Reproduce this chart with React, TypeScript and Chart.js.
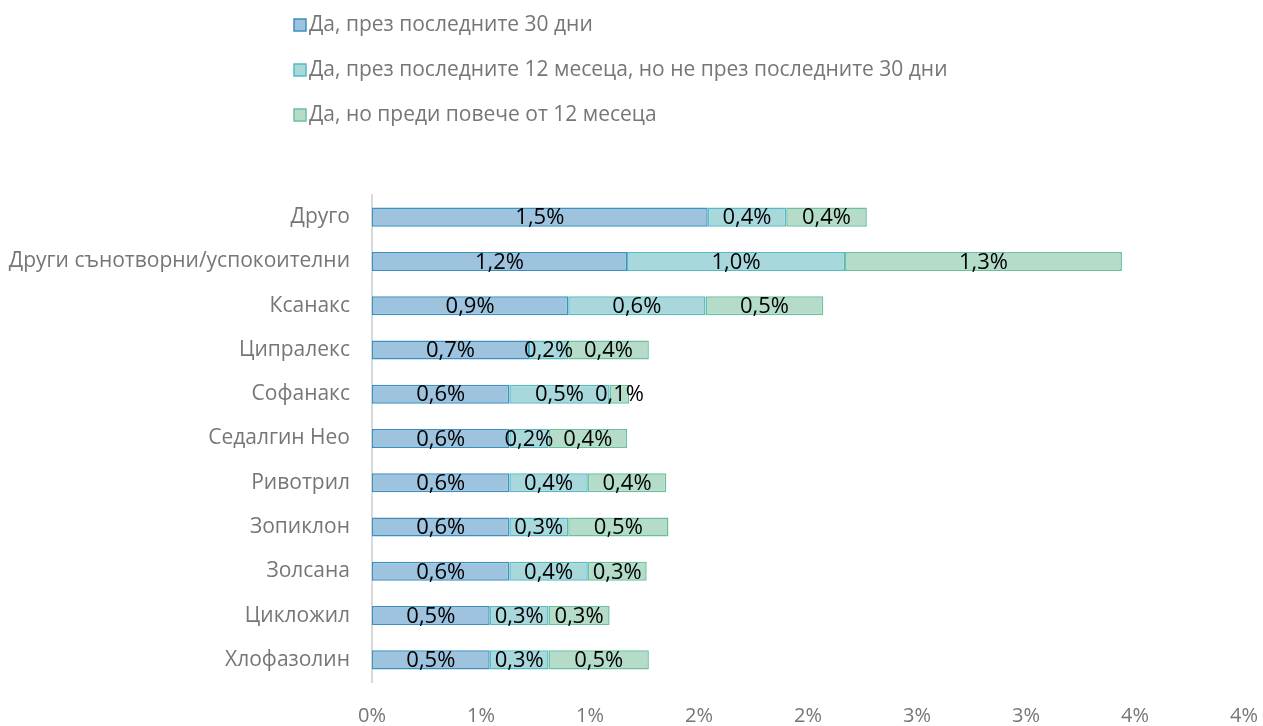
import React, { useEffect, useRef } from "react";
import { Chart, registerables } from "chart.js";

Chart.register(...registerables);

const categories = [
  "Друго",
  "Други сънотворни/успокоителни",
  "Ксанакс",
  "Ципралекс",
  "Софанакс",
  "Седалгин Нео",
  "Ривотрил",
  "Зопиклон",
  "Золсана",
  "Цикложил",
  "Хлофазолин",
];

const seriesNames = [
  "Да, през последните 30 дни",
  "Да, през последните 12 месеца, но не през последните 30 дни",
  "Да, но преди повече от 12 месеца",
];

const last30Days = [1.54, 1.17, 0.9, 0.72, 0.63, 0.63, 0.63, 0.63, 0.63, 0.54, 0.54];
const last12Months = [0.36, 1.0, 0.63, 0.18, 0.46, 0.18, 0.36, 0.27, 0.36, 0.27, 0.27];
const before12Months = [0.37, 1.27, 0.54, 0.37, 0.09, 0.36, 0.36, 0.46, 0.27, 0.28, 0.46];

const xTicks = [0, 0.5, 1, 1.5, 2, 2.5, 3, 3.5, 4];

const fills = ["#9dc3df", "#a9d8dc", "#b4dcc8"];
const borders = ["#3b90bf", "#55bac3", "#6cc09f"];

const FONT = "'Open Sans', 'DejaVu Sans', sans-serif";
const GRAY = "#767676";

const fmt = (v: number) => v.toFixed(1).replace(".", ",") + "%";

const labelPlugin = {
  id: "segLabels",
  afterDatasetsDraw(chart: any) {
    const ctx = chart.ctx;
    ctx.save();
    ctx.font = `22px ${FONT}`;
    ctx.fillStyle = "#000000";
    ctx.textAlign = "center";
    ctx.textBaseline = "middle";
    chart.data.datasets.forEach((ds: any, di: number) => {
      const meta = chart.getDatasetMeta(di);
      meta.data.forEach((el: any, i: number) => {
        const cx = (el.x + el.base) / 2;
        ctx.fillText(fmt(ds.data[i]), cx, el.y + 1);
      });
    });
    ctx.restore();
  },
};

const legendPlugin = {
  id: "vertLegend",
  afterDraw(chart: any) {
    const ctx = chart.ctx;
    ctx.save();
    ctx.font = `21px ${FONT}`;
    ctx.textBaseline = "middle";
    ctx.textAlign = "left";
    const ys = [25, 70, 115];
    chart.data.datasets.forEach((ds: any, i: number) => {
      const y = ys[i];
      ctx.fillStyle = ds.backgroundColor;
      ctx.fillRect(294, y - 6, 12, 12);
      ctx.strokeStyle = ds.borderColor;
      ctx.lineWidth = 1.5;
      ctx.strokeRect(294, y - 6, 12, 12);
      ctx.fillStyle = GRAY;
      ctx.fillText(ds.label, 309, y);
    });
    ctx.restore();
  },
};

export default function App() {
  const ref = useRef<HTMLCanvasElement | null>(null);

  useEffect(() => {
    if (!ref.current) return;
    const data = [last30Days, last12Months, before12Months];
    const chart = new Chart(ref.current, {
      type: "bar",
      data: {
        labels: categories,
        datasets: data.map((d, i) => ({
          label: seriesNames[i],
          data: d,
          backgroundColor: fills[i],
          borderColor: borders[i],
          borderWidth: 1.5,
          borderSkipped: false,
          barPercentage: 0.43,
          categoryPercentage: 1,
        })),
      },
      options: {
        indexAxis: "y",
        animation: false,
        responsive: false,
        layout: { padding: { top: 195, right: 0, left: 0, bottom: 0 } },
        plugins: {
          legend: { display: false },
          tooltip: { enabled: false },
        },
        scales: {
          x: {
            stacked: true,
            min: 0,
            max: 4,
            afterBuildTicks: (s: any) => {
              s.ticks = xTicks.map((v) => ({ value: v }));
            },
            afterFit: (s: any) => {
              s.height = 44;
              s.paddingLeft = 0;
              s.paddingRight = 19;
            },
            grid: { display: false, drawTicks: false },
            border: { display: false },
            ticks: {
              padding: 22,
              color: GRAY,
              font: { family: FONT, size: 20 },
              callback: (v: any) => Math.round(Number(v)) + "%",
            },
          },
          y: {
            stacked: true,
            afterFit: (s: any) => {
              s.width = 372;
            },
            grid: { display: false, drawTicks: false },
            border: { display: true, color: "#d9d9d9", width: 2 },
            ticks: {
              padding: 22,
              color: GRAY,
              font: { family: FONT, size: 21 },
            },
          },
        },
      },
      plugins: [labelPlugin, legendPlugin],
    } as any);
    return () => chart.destroy();
  }, []);

  return (
    <div style={{ position: "fixed", left: 0, top: 0, width: 1263, height: 726, background: "#fff" }}>
      <canvas ref={ref} width={1263} height={726} style={{ display: "block" }} />
    </div>
  );
}
